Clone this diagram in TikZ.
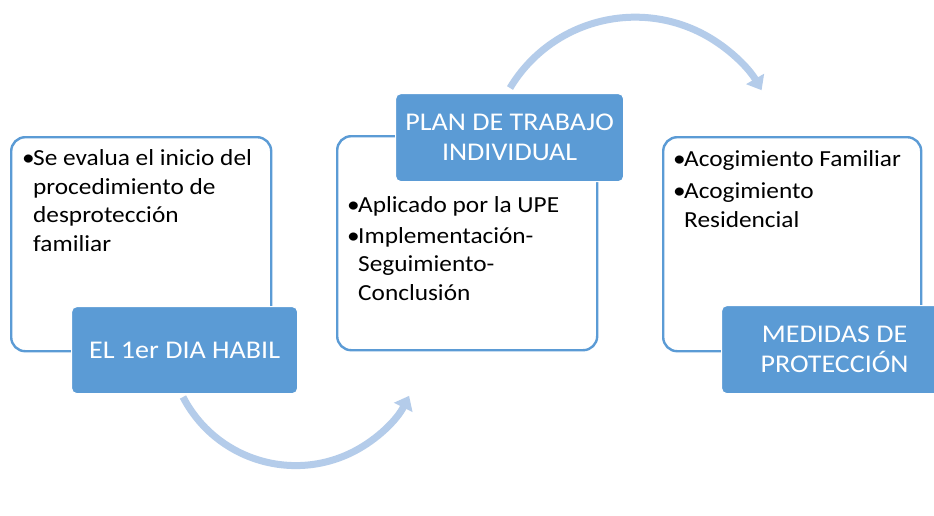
\documentclass[tikz,border=0pt]{standalone}
\usepackage{fontspec}
\setmainfont{Carlito}[FakeStretch=1.1]
\usetikzlibrary{arrows.meta}
\definecolor{acc}{HTML}{5B9BD5}
\definecolor{arr}{HTML}{B4CCEA}
\newcommand{\bul}{\makebox[11pt][l]{•}}
\newcommand{\ind}{\hspace*{11pt}}
\begin{document}
\begin{tikzpicture}[x=1pt,y=-1pt,
  outbox/.style={draw=acc,line width=2.4pt,rounded corners=14pt,fill=white,anchor=north west,inner sep=0pt},
  headbox/.style={draw=white,line width=1.2pt,fill=acc,rounded corners=5pt,anchor=north west,inner sep=0pt,
     text=white,font=\fontsize{25.5}{30}\selectfont,align=center},
  bodytxt/.style={font=\fontsize{23}{28.5}\selectfont,align=left,anchor=base west,inner sep=0pt},
  flow/.style={draw=arr,line width=7pt,-{Triangle[width=20pt,length=13pt]}}]
\useasboundingbox[fill=white] (0,0) rectangle (934,515);
% boxes
\node[outbox,minimum width=260pt,minimum height=214pt] (o1) at (10,136) {};
\node[headbox,minimum width=226pt,minimum height=87pt] (h1) at (71,306) {EL 1er DIA HABIL};
\node[outbox,minimum width=260pt,minimum height=214pt] (o2) at (336,135) {};
\node[headbox,minimum width=228pt,minimum height=88pt] (h2) at (395,93) {PLAN DE TRABAJO\\INDIVIDUAL};
\node[outbox,minimum width=258pt,minimum height=214pt] (o3) at (662,136) {};
\node[headbox,minimum width=226pt,minimum height=88pt] (h3) at (721,305) {MEDIDAS DE\\PROTECCIÓN};
% body texts (anchored at the baseline of their last line)
\node[bodytxt] (b1) at (22,251) {\bul Se evalua el inicio del\\ \ind procedimiento de\\ \ind desprotección\\ \ind familiar};
\node[bodytxt] (b2) at (347,300) {\bul Aplicado por la UPE\\[2pt] \bul Implementación-\\ \ind Seguimiento-\\ \ind Conclusión};
\node[bodytxt] (b3) at (673,227) {\bul Acogimiento Familiar\\[4pt] \bul Acogimiento\\ \ind Residencial};
% arrows
\coordinate (s1) at (183,397);
\draw[flow] (s1) arc[start angle=152.6,end angle=26.8,radius=127];
\coordinate (s2) at (510,88);
\draw[flow] (s2) arc[start angle=-149,end angle=-30,radius=146];
\end{tikzpicture}
\end{document}
